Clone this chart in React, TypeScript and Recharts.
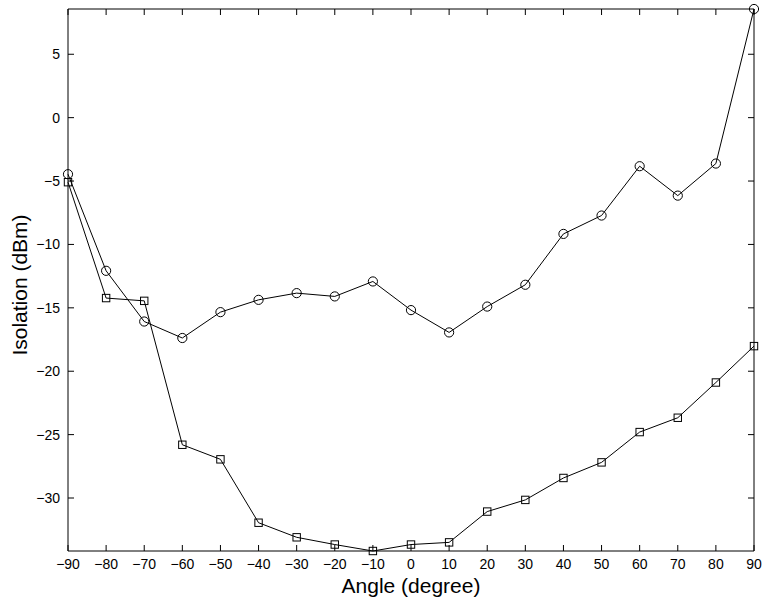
import { LineChart, Line, XAxis, YAxis } from 'recharts'

const angles = [-90, -80, -70, -60, -50, -40, -30, -20, -10, 0, 10, 20, 30, 40, 50, 60, 70, 80, 90]
const circleSeries = [-4.46, -12.08, -16.08, -17.38, -15.34, -14.37, -13.84, -14.1, -12.92, -15.18, -16.94, -14.9, -13.18, -9.17, -7.72, -3.83, -6.15, -3.62, 8.57]
const squareSeries = [-5.09, -14.23, -14.45, -25.8, -26.95, -31.95, -33.1, -33.67, -34.18, -33.67, -33.5, -31.07, -30.15, -28.42, -27.19, -24.8, -23.67, -20.89, -18.02]
const xTicks = [-90, -80, -70, -60, -50, -40, -30, -20, -10, 0, 10, 20, 30, 40, 50, 60, 70, 80, 90]
const yTicks = [-30, -25, -20, -15, -10, -5, 0, 5]
const yDomain = [-34.18, 8.57]

const data = angles.map((a, i) => ({ angle: a, circ: circleSeries[i], sq: squareSeries[i] }))

const font = '"Liberation Sans", Arial, Helvetica, sans-serif'
const fmt = (v: number) => (v < 0 ? `\u2212${Math.abs(v)}` : `${v}`)
const TICK = 6

const BottomTick = (p: any) => (
  <g>
    <line x1={p.x} y1={p.y} x2={p.x} y2={p.y - TICK} stroke="#000" strokeWidth={1} />
    <text x={p.x} y={p.y + 18} textAnchor="middle" fontSize={14} fontFamily={font} fill="#000">
      {fmt(p.payload.value)}
    </text>
  </g>
)
const TopTick = (p: any) => (
  <line x1={p.x} y1={p.y} x2={p.x} y2={p.y + TICK} stroke="#000" strokeWidth={1} />
)
const LeftTick = (p: any) => (
  <g>
    <line x1={p.x} y1={p.y} x2={p.x + TICK} y2={p.y} stroke="#000" strokeWidth={1} />
    <text x={p.x - 8} y={p.y + 5} textAnchor="end" fontSize={14} fontFamily={font} fill="#000">
      {fmt(p.payload.value)}
    </text>
  </g>
)
const RightTick = (p: any) => (
  <line x1={p.x} y1={p.y} x2={p.x - TICK} y2={p.y} stroke="#000" strokeWidth={1} />
)

const CircleDot = (p: any) => (
  <circle key={p.key} cx={p.cx} cy={p.cy} r={4.6} fill="none" stroke="#000" strokeWidth={1} />
)
const SquareDot = (p: any) => (
  <rect key={p.key} x={p.cx - 3.7} y={p.cy - 3.7} width={7.4} height={7.4} fill="none" stroke="#000" strokeWidth={1} />
)

export default function App() {
  return (
    <div style={{ position: 'absolute', left: 0, top: 0, background: '#fff' }}>
      <LineChart width={763} height={600} data={data} margin={{ top: 8, right: 8, bottom: 0, left: 0 }}>
        <XAxis
          dataKey="angle"
          type="number"
          domain={[-90, 90]}
          ticks={xTicks}
          interval={0}
          height={49}
          tickSize={0}
          tickMargin={0}
          tickLine={false}
          axisLine={{ stroke: '#000' }}
          tick={BottomTick}
          label={{
            content: ({ viewBox }: any) => (
              <text
                x={viewBox.x + viewBox.width / 2}
                y={593}
                textAnchor="middle"
                fontSize={21}
                fontFamily={font}
                fill="#000"
              >
                Angle (degree)
              </text>
            ),
          }}
        />
        <XAxis
          xAxisId="top"
          orientation="top"
          dataKey="angle"
          type="number"
          domain={[-90, 90]}
          ticks={xTicks}
          interval={0}
          height={1}
          tickSize={0}
          tickMargin={0}
          tickLine={false}
          axisLine={{ stroke: '#000' }}
          tick={TopTick}
        />
        <YAxis
          type="number"
          domain={yDomain}
          ticks={yTicks}
          interval={0}
          width={68}
          tickSize={0}
          tickMargin={0}
          tickLine={false}
          axisLine={{ stroke: '#000' }}
          tick={LeftTick}
          label={{
            content: ({ viewBox }: any) => {
              const cy = viewBox.y + viewBox.height / 2 + 5
              return (
                <text
                  x={27}
                  y={cy}
                  transform={`rotate(-90 27 ${cy})`}
                  textAnchor="middle"
                  fontSize={21}
                  fontFamily={font}
                  fill="#000"
                >
                  Isolation (dBm)
                </text>
              )
            },
          }}
        />
        <YAxis
          yAxisId="right"
          orientation="right"
          type="number"
          domain={yDomain}
          ticks={yTicks}
          interval={0}
          width={1}
          tickSize={0}
          tickMargin={0}
          tickLine={false}
          axisLine={{ stroke: '#000' }}
          tick={RightTick}
        />
        <Line dataKey="circ" stroke="#000" strokeWidth={1} dot={CircleDot} isAnimationActive={false} />
        <Line dataKey="sq" stroke="#000" strokeWidth={1} dot={SquareDot} isAnimationActive={false} />
        {/* invisible series so the top and right frame axes get drawn */}
        <Line
          xAxisId="top"
          yAxisId="right"
          dataKey="circ"
          stroke="none"
          dot={false}
          activeDot={false}
          legendType="none"
          isAnimationActive={false}
        />
      </LineChart>
    </div>
  )
}
